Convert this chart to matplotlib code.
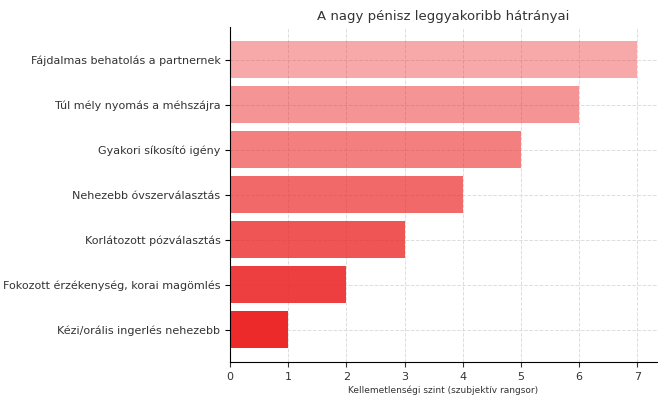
import matplotlib
matplotlib.use("Agg")
import matplotlib.pyplot as plt

# data
categories = [
    "Kézi/orális ingerlés nehezebb",
    "Fokozott érzékenység, korai magömlés",
    "Korlátozott pózválasztás",
    "Nehezebb óvszerválasztás",
    "Gyakori síkosító igény",
    "Túl mély nyomás a méhszájra",
    "Fájdalmas behatolás a partnernek",
]
values = [1, 2, 3, 4, 5, 6, 7]
alphas = [1.0, 0.9, 0.8, 0.7, 0.6, 0.5, 0.4]

fig, ax = plt.subplots(figsize=(6.67, 4), dpi=100)
fig.subplots_adjust(left=0.345, right=0.985, top=0.932, bottom=0.095)

for i, (v, a) in enumerate(zip(values, alphas)):
    ax.barh(i, v, color="#ec2a2a", alpha=a, height=0.82, zorder=2)

ax.set_yticks(range(len(categories)))
ax.set_yticklabels(categories, fontsize=8, color="#333333")
ax.set_xlim(0, 7.34)
ax.set_ylim(-0.72, 6.72)
ax.tick_params(axis="x", labelsize=8, colors="#333333")
ax.set_xlabel("Kellemetlenségi szint (szubjektív rangsor)", fontsize=6.5, color="#333333", labelpad=3)
ax.set_title("A nagy pénisz leggyakoribb hátrányai", fontsize=9.5, color="#333333", pad=5)
ax.grid(True, linestyle="--", color="#dddddd", linewidth=0.7, zorder=0)
ax.spines["top"].set_visible(False)
ax.spines["right"].set_visible(False)

fig.savefig("out.png", dpi=100)
